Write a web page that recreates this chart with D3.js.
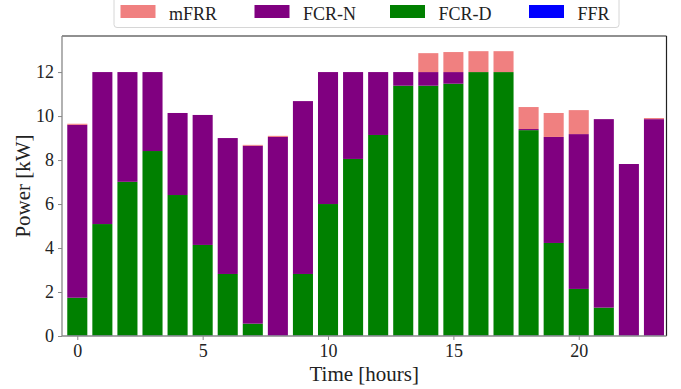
<!DOCTYPE html>
<html>
<head>
<meta charset="utf-8">
<script src="https://cdn.jsdelivr.net/npm/d3@7"></script>
<style>
  html, body { margin: 0; padding: 0; background: #fff; }
  svg { display: block; }
  svg text { font-family: "Liberation Serif", "Times New Roman", "DejaVu Serif", serif !important; fill: #222; }
</style>
</head>
<body>
<svg id="chart" width="681" height="389"></svg>
<script>
// ---- data ----
const hours = d3.range(0, 24);
const ffr  = [0.02,0.02,0.02,0.02,0.02,0.02,0.02,0.02,0.02,0.02,0.02,0.02,0.02,0.02,0.02,0.02,0.02,0.02,0.02,0.02,0.02,0.02,0.02,0.02];
const fcrD = [1.72,5.07,6.99,8.39,6.39,4.12,2.80,0.54,0.00,2.80,5.98,8.03,9.12,11.36,11.36,11.45,11.98,11.98,9.34,4.21,2.12,1.27,0.00,0.00];
const fcrN = [7.86,6.91,4.99,3.59,3.73,5.91,6.18,8.09,9.03,7.86,6.00,3.95,2.86,0.62,0.62,0.53,0.00,0.00,0.05,4.82,7.04,8.57,7.80,9.84];
const mfrr = [0.05,0.00,0.00,0.00,0.00,0.00,0.00,0.04,0.05,0.00,0.00,0.00,0.00,0.00,0.86,0.91,0.95,0.95,1.00,1.09,1.09,0.00,0.00,0.05];
const xTicks = [0, 5, 10, 15, 20];
const yTicks = [0, 2, 4, 6, 8, 10, 12];
const seriesNames = ["FFR", "FCR-D", "FCR-N", "mFRR"];
const seriesColors = ["#0000ff", "#008000", "#800080", "#f08080"];
const legendOrder = ["mFRR", "FCR-N", "FCR-D", "FFR"];

const FONT = '"Liberation Serif", "Times New Roman", "DejaVu Serif", serif';
const svg = d3.select("#chart");
const L = 62, R = 666.5, T = 36, B = 336;

const x = d3.scaleLinear().domain([-0.61, 23.5]).range([L, R]);
const y = d3.scaleLinear().domain([0, 13.64]).range([B, T]);
const color = d3.scaleOrdinal().domain(seriesNames).range(seriesColors);

const rows = hours.map((h, i) => ({hour: h, "FFR": ffr[i], "FCR-D": fcrD[i], "FCR-N": fcrN[i], "mFRR": mfrr[i]}));
const stacked = d3.stack().keys(seriesNames)(rows);

const barW = x(0.8) - x(0);
const g = svg.append("g");
stacked.forEach(layer => {
  g.selectAll(null).data(layer).enter().append("rect")
    .attr("x", d => x(d.data.hour - 0.4))
    .attr("width", barW)
    .attr("y", d => y(d[1]))
    .attr("height", d => Math.max(0, y(d[0]) - y(d[1])))
    .attr("fill", color(layer.key));
});

// frame: top/right dark, left/bottom gray
svg.append("line").attr("x1", L).attr("x2", R).attr("y1", T).attr("y2", T).attr("stroke", "#222").attr("stroke-width", 1.2);
svg.append("line").attr("x1", R).attr("x2", R).attr("y1", T).attr("y2", B).attr("stroke", "#222").attr("stroke-width", 1.2);

// axes
const xAxis = d3.axisBottom(x).tickValues(xTicks).tickSize(4).tickPadding(4).tickFormat(d3.format("d"));
const yAxis = d3.axisLeft(y).tickValues(yTicks).tickSize(4).tickPadding(4).tickFormat(d3.format("d"));

const gx = svg.append("g").attr("transform", `translate(0,${B})`).call(xAxis).attr("font-family", FONT);
const gy = svg.append("g").attr("transform", `translate(${L},0)`).call(yAxis).attr("font-family", FONT);
[gx, gy].forEach(a => {
  a.select(".domain").attr("stroke", "#888").attr("stroke-width", 1.3);
  a.selectAll(".tick line").attr("stroke", "#888").attr("stroke-width", 1);
  a.selectAll(".tick text").attr("font-size", 18).attr("fill", "#222").style("font-family", FONT);
});
gx.select(".domain").attr("d", `M${L},0H${R}`);
gy.select(".domain").attr("d", `M0,${B}V${T}`);

// axis labels
svg.append("text").attr("x", (L + R) / 2).attr("y", 381).attr("text-anchor", "middle")
  .attr("font-size", 21).style("font-family", FONT).text("Time [hours]");
svg.append("text").attr("transform", `translate(30,${(T + B) / 2}) rotate(-90)`)
  .attr("text-anchor", "middle").attr("font-size", 21).style("font-family", FONT).text("Power [kW]");

// legend
const lg = svg.append("g");
lg.append("rect").attr("x", 114).attr("y", -6).attr("width", 505).attr("height", 33.5)
  .attr("rx", 3).attr("fill", "#fff").attr("stroke", "#d6d6d6").attr("stroke-width", 1);
const legX = [120.5, 254.5, 390, 529];
legendOrder.forEach((name, i) => {
  lg.append("rect").attr("x", legX[i]).attr("y", 5).attr("width", 35).attr("height", 13).attr("fill", color(name));
  lg.append("text").attr("x", legX[i] + 48.5).attr("y", 19.5).attr("font-size", 18)
    .style("font-family", FONT).text(name);
});
</script>
</body>
</html>
